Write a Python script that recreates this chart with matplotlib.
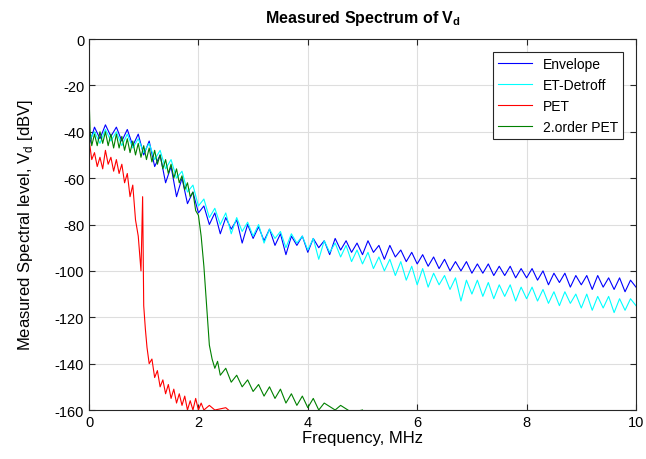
import matplotlib
matplotlib.use('Agg')
import matplotlib.pyplot as plt
import numpy as np

plt.rcParams['font.family'] = ['Liberation Sans', 'DejaVu Sans']
plt.rcParams['axes.unicode_minus'] = False

# Envelope / ET-Detroff: sampled every 0.1 MHz from 0 to 10 MHz
freq_wide = np.round(np.arange(0, 10.01, 0.1), 2)

envelope = [
    -46, -38, -43, -37, -42, -38, -44, -39, -46, -41,
    -50, -44, -55, -50, -62, -55, -68, -60, -71, -66,
    -75, -72, -80, -75, -84, -77, -82, -78, -88, -80,
    -86, -81, -87, -82, -89, -84, -93, -85, -89, -85,
    -92, -86, -90, -87, -93, -86, -91, -87, -92, -88,
    -93, -87, -92, -89, -95, -89, -94, -91, -96, -92,
    -97, -93, -98, -94, -99, -95, -100, -96, -100, -96,
    -101, -97, -101, -97, -102, -98, -102, -98, -103, -99,
    -103, -99, -104, -100, -106, -101, -105, -101, -107, -102,
    -106, -102, -108, -102, -107, -103, -108, -103, -109, -104,
    -107,
]

et_detroff = [
    -44, -40, -45, -39, -44, -40, -46, -41, -47, -43,
    -49, -45, -52, -48, -56, -52, -60, -57, -66, -63,
    -72, -69, -77, -73, -80, -75, -84, -77, -83, -79,
    -85, -80, -88, -82, -86, -83, -90, -84, -88, -85,
    -91, -86, -95, -87, -92, -88, -94, -89, -96, -91,
    -97, -92, -99, -94, -100, -95, -102, -96, -104, -98,
    -106, -99, -107, -101, -106, -102, -108, -103, -113, -104,
    -110, -104, -111, -105, -112, -106, -111, -106, -113, -107,
    -112, -107, -113, -108, -114, -109, -115, -109, -114, -110,
    -116, -110, -117, -111, -116, -111, -118, -112, -117, -112,
    -115,
]

freq_pet = [
    0.0, 0.01, 0.05, 0.1, 0.15, 0.2, 0.25, 0.3, 0.35, 0.4,
    0.45, 0.5, 0.55, 0.6, 0.65, 0.7, 0.75, 0.8, 0.85, 0.9,
    0.95, 0.98, 1.0, 1.03, 1.06, 1.1, 1.15, 1.2, 1.25, 1.3,
    1.35, 1.4, 1.45, 1.5, 1.55, 1.6, 1.65, 1.7, 1.75, 1.8,
    1.85, 1.9, 1.95, 2.0, 2.05, 2.1, 2.2, 2.3, 2.5, 2.6,
]
pet = [
    0, -45, -52, -49, -55, -51, -56, -48, -54, -51,
    -57, -52, -58, -54, -62, -58, -68, -63, -78, -85,
    -100, -68, -115, -125, -133, -140, -138, -146, -143, -150,
    -147, -153, -149, -155, -151, -157, -153, -158, -154, -160,
    -156, -160, -155, -160, -157, -160, -158, -160, -159, -161,
]

freq_pet2 = [
    0.0, 0.02, 0.05, 0.1, 0.15, 0.2, 0.25, 0.3, 0.35, 0.4,
    0.45, 0.5, 0.55, 0.6, 0.65, 0.7, 0.75, 0.8, 0.85, 0.9,
    0.95, 1.0, 1.05, 1.1, 1.15, 1.2, 1.25, 1.3, 1.35, 1.4,
    1.45, 1.5, 1.55, 1.6, 1.65, 1.7, 1.75, 1.8, 1.85, 1.9,
    1.95, 2.0, 2.05, 2.1, 2.15, 2.2, 2.25, 2.3, 2.35, 2.4,
    2.5, 2.6, 2.7, 2.8, 2.9, 3.0, 3.1, 3.2, 3.3, 3.4,
    3.5, 3.6, 3.7, 3.8, 3.9, 4.0, 4.1, 4.2, 4.3, 4.5,
    4.6, 4.8, 5.0,
]
pet2 = [
    -24, -40, -46, -41, -46, -40, -45, -40, -46, -41,
    -47, -41, -47, -42, -48, -43, -49, -44, -50, -45,
    -51, -46, -52, -47, -53, -48, -54, -50, -56, -52,
    -58, -54, -60, -56, -62, -59, -65, -62, -68, -66,
    -74, -76, -85, -98, -115, -132, -138, -142, -139, -145,
    -142, -148, -145, -150, -147, -152, -149, -154, -150, -155,
    -151, -157, -153, -158, -154, -159, -155, -160, -157, -160,
    -158, -161, -160,
]

fig = plt.figure(figsize=(6.46, 4.6), dpi=100)
ax = fig.add_axes([0.1378, 0.1065, 0.8467, 0.8065])

ax.plot(freq_wide, envelope, color='#0000ff', lw=0.8, label='Envelope')
ax.plot(freq_wide, et_detroff, color='#00ffff', lw=0.8, label='ET-Detroff')
ax.plot(freq_pet, pet, color='#ff0000', lw=0.8, label='PET')
ax.plot(freq_pet2, pet2, color='#008000', lw=0.8, label='2.order PET')

ax.set_xlim(0, 10)
ax.set_ylim(-160, 0)
ax.set_xticks(np.arange(0, 11, 2))
ax.set_yticks(np.arange(-160, 1, 20))
ax.grid(True, color='#dedede', lw=0.8)
ax.tick_params(direction='in', top=True, right=True, labelsize=10.5, length=4, color='#262626')
for s in ax.spines.values():
    s.set_color('#262626')
    s.set_linewidth(0.8)

ax.set_title(r'Measured Spectrum of V$_\mathregular{d}$', fontsize=11.5, fontweight='bold', pad=12)
ax.set_xlabel('Frequency, MHz', fontsize=12, labelpad=1)
ax.set_ylabel(r'Measured Spectral level, V$_\mathregular{d}$ [dBV]', fontsize=12, labelpad=14)

leg = ax.legend(loc='upper right', fontsize=10, fancybox=False, edgecolor='#262626',
                framealpha=1, borderaxespad=0.9, handlelength=2.4)
leg.get_frame().set_linewidth(0.8)

plt.savefig('out.png', dpi=100)
